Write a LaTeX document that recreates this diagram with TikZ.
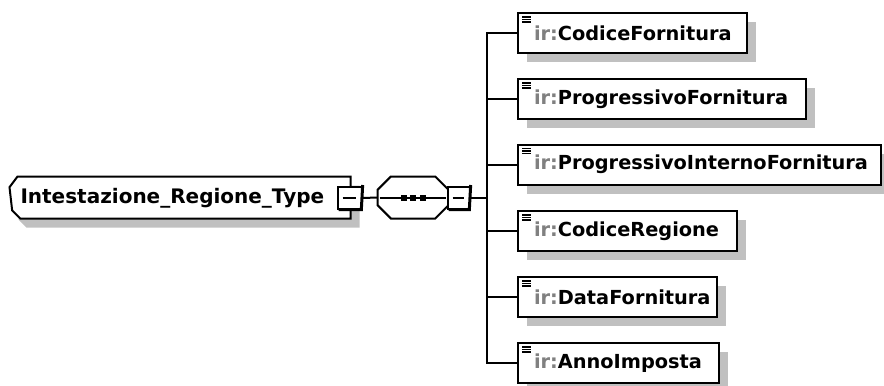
\documentclass[tikz,border=0pt]{standalone}
\usepackage{fontspec}
\setmainfont{DejaVu Sans}
\usetikzlibrary{positioning,shadows}

\definecolor{shadegray}{RGB}{192,192,192}
\definecolor{nsgray}{RGB}{128,128,128}
\newcommand{\irname}[1]{\mbox{\textcolor{nsgray}{ir:}#1}}

\tikzset{every picture/.style={line width=0.75pt}}
\tikzset{
  elem/.style={draw, fill=white, line width=1.5pt, anchor=west, align=left,
    minimum height=30pt, inner xsep=12pt, inner ysep=0pt, text width=#1,
    font=\bfseries\fontsize{14.5}{17}\selectfont,
    drop shadow={shadow xshift=6.75pt, shadow yshift=-6.75pt, fill=shadegray, opacity=1}},
  minusbox/.style={draw, fill=white, line width=1pt, minimum width=18pt, minimum height=16.5pt, inner sep=0pt},
  link/.style={line width=1.5pt},
  shadowfill/.style={fill=shadegray, draw=none}
}

\begin{document}
\begin{tikzpicture}[x=0.75pt,y=0.75pt,yscale=-1,xscale=1]
\useasboundingbox (0,0) rectangle (884,385);

% complex type box
\node[minimum width=255pt, minimum height=30.75pt, inner sep=0pt] (type) at (180,197.5) {};
\fill[shadowfill] ([shift={(9,9)}]type.north west) ++(8,0) -- ([shift={(9,9)}]type.north east) -- ([shift={(9,9)}]type.south east) -- ([shift={(17,9)}]type.south west) -- ++(-8,-8) -- ([shift={(9,17)}]type.north west) -- cycle;
\draw[link, fill=white] (type.north west) ++(8,0) -- (type.north east) -- (type.south east) -- ([xshift=8]type.south west) -- ++(-8,-8) -- ([yshift=8]type.north west) -- cycle;
\node[anchor=west, inner sep=0pt, font=\bfseries\fontsize{15}{17}\selectfont] (typelabel) at (20,198) {Intestazione\_Regione\_Type};

% sequence compositor
\node[minimum width=52.5pt, minimum height=30.75pt, inner sep=0pt] (seq) at (413,197.5) {};
\fill[shadowfill, shift={(8,8)}] ([xshift=10]seq.north west) -- ([xshift=-10]seq.north east) -- ([yshift=10]seq.north east) -- ([yshift=-10]seq.south east) -- ([xshift=-10]seq.south east) -- ([xshift=10]seq.south west) -- ([yshift=-10]seq.south west) -- ([yshift=10]seq.north west) -- cycle;
\draw[link, fill=white] ([xshift=10]seq.north west) -- ([xshift=-10]seq.north east) -- ([yshift=10]seq.north east) -- ([yshift=-10]seq.south east) -- ([xshift=-10]seq.south east) -- ([xshift=10]seq.south west) -- ([yshift=-10]seq.south west) -- ([yshift=10]seq.north west) -- cycle;
\draw[link] ([xshift=-25]seq.center) -- ([xshift=25]seq.center);
\foreach \dx in {-9.5,0,9.5}
  \fill ([shift={(\dx-3,-3)}]seq.center) rectangle ++(6,6);

% collapse boxes
\node[minusbox] (typeminus) at (350,198) {};
\node[minusbox, minimum width=16.5pt] (seqminus) at (459,198) {};
\foreach \m in {typeminus,seqminus} {
  \draw[line width=2.25pt] ([yshift=-1]\m.north east) -- ([xshift=-1]\m.south east) -- ([xshift=1]\m.south west);
  \draw[line width=1.1pt] ([xshift=4]\m.west) -- ([xshift=-5]\m.east);
}

% child elements
\node[elem=147.75pt] (codfor) at (517,33) {\irname{CodiceFornitura}};
\node[elem=192pt] (progfor) at (517,99) {\irname{ProgressivoFornitura}};
\node[elem=248.25pt] (progint) at (517,164.5) {\irname{ProgressivoInternoFornitura}};
\node[elem=140.25pt] (codreg) at (517,231) {\irname{CodiceRegione}};
\node[elem=125.25pt] (datafor) at (517,297) {\irname{DataFornitura}};
\node[elem=126.75pt] (anno) at (517,363) {\irname{AnnoImposta}};

% connectors
\coordinate (fork) at (487,198);
\draw[link] (typeminus.east) -- (seq.west);
\draw[link] (seq.east) -- (seqminus.west);
\draw[link] (seqminus.east) -- (fork);
\foreach \c in {codfor,progfor,progint,codreg,datafor,anno} {
  \draw[link] (fork) |- (\c.west);
  % element icon
  \foreach \k in {0,1,2}
    \draw[line width=1.1pt] ([shift={(5,5+2.6*\k)}]\c.north west) -- ++(9,0);
}

\end{tikzpicture}
\end{document}
